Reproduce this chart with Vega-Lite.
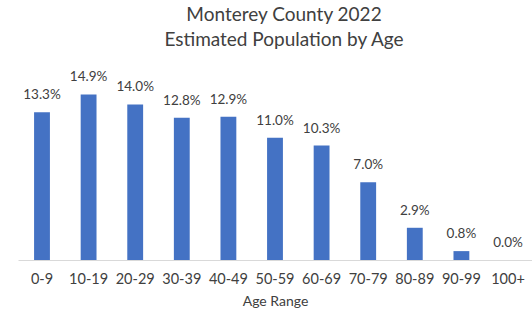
{
  "$schema": "https://vega.github.io/schema/vega-lite/v6.json",
  "width": 514,
  "height": 200,
  "autosize": {"type": "none"},
  "padding": {"left": 18, "top": 60, "right": 0, "bottom": 58},
  "background": "white",
  "title": {
    "text": ["Monterey County 2022", "Estimated Population by Age"],
    "font": "Lato",
    "fontSize": 19,
    "fontWeight": "normal",
    "color": "#404040",
    "lineHeight": 25,
    "anchor": "middle",
    "dx": 9,
    "offset": 10
  },
  "config": {"view": {"stroke": null}},
  "data": {
    "values": [
      {"age": "0-9", "pct": 13.3, "label": "13.3%"},
      {"age": "10-19", "pct": 14.9, "label": "14.9%"},
      {"age": "20-29", "pct": 14.0, "label": "14.0%"},
      {"age": "30-39", "pct": 12.8, "label": "12.8%"},
      {"age": "40-49", "pct": 12.9, "label": "12.9%"},
      {"age": "50-59", "pct": 11.0, "label": "11.0%"},
      {"age": "60-69", "pct": 10.3, "label": "10.3%"},
      {"age": "70-79", "pct": 7.0, "label": "7.0%"},
      {"age": "80-89", "pct": 2.9, "label": "2.9%"},
      {"age": "90-99", "pct": 0.8, "label": "0.8%"},
      {"age": "100+", "pct": 0.0, "label": "0.0%"}
    ]
  },
  "encoding": {
    "x": {
      "field": "age",
      "type": "nominal",
      "sort": null,
      "scale": {"paddingInner": 0.66, "paddingOuter": 0.345},
      "axis": {
        "title": "Age Range",
        "titleFont": "Lato",
        "titleFontSize": 14,
        "titleFontWeight": "normal",
        "titleColor": "#404040",
        "titlePadding": 9,
        "labelFont": "Lato",
        "labelFontSize": 14.5,
        "labelColor": "#404040",
        "labelAngle": 0,
        "labelPadding": 12,
        "ticks": false,
        "domainColor": "#d9d9d9",
        "domainWidth": 1
      }
    },
    "y": {
      "field": "pct",
      "type": "quantitative",
      "scale": {"domain": [0, 18]},
      "axis": null
    }
  },
  "layer": [
    {"mark": {"type": "bar", "color": "#4472C4"}},
    {
      "mark": {"type": "text", "baseline": "alphabetic", "dy": -13, "font": "Lato", "fontSize": 13.5, "color": "#404040"},
      "encoding": {"text": {"field": "label"}}
    }
  ]
}
